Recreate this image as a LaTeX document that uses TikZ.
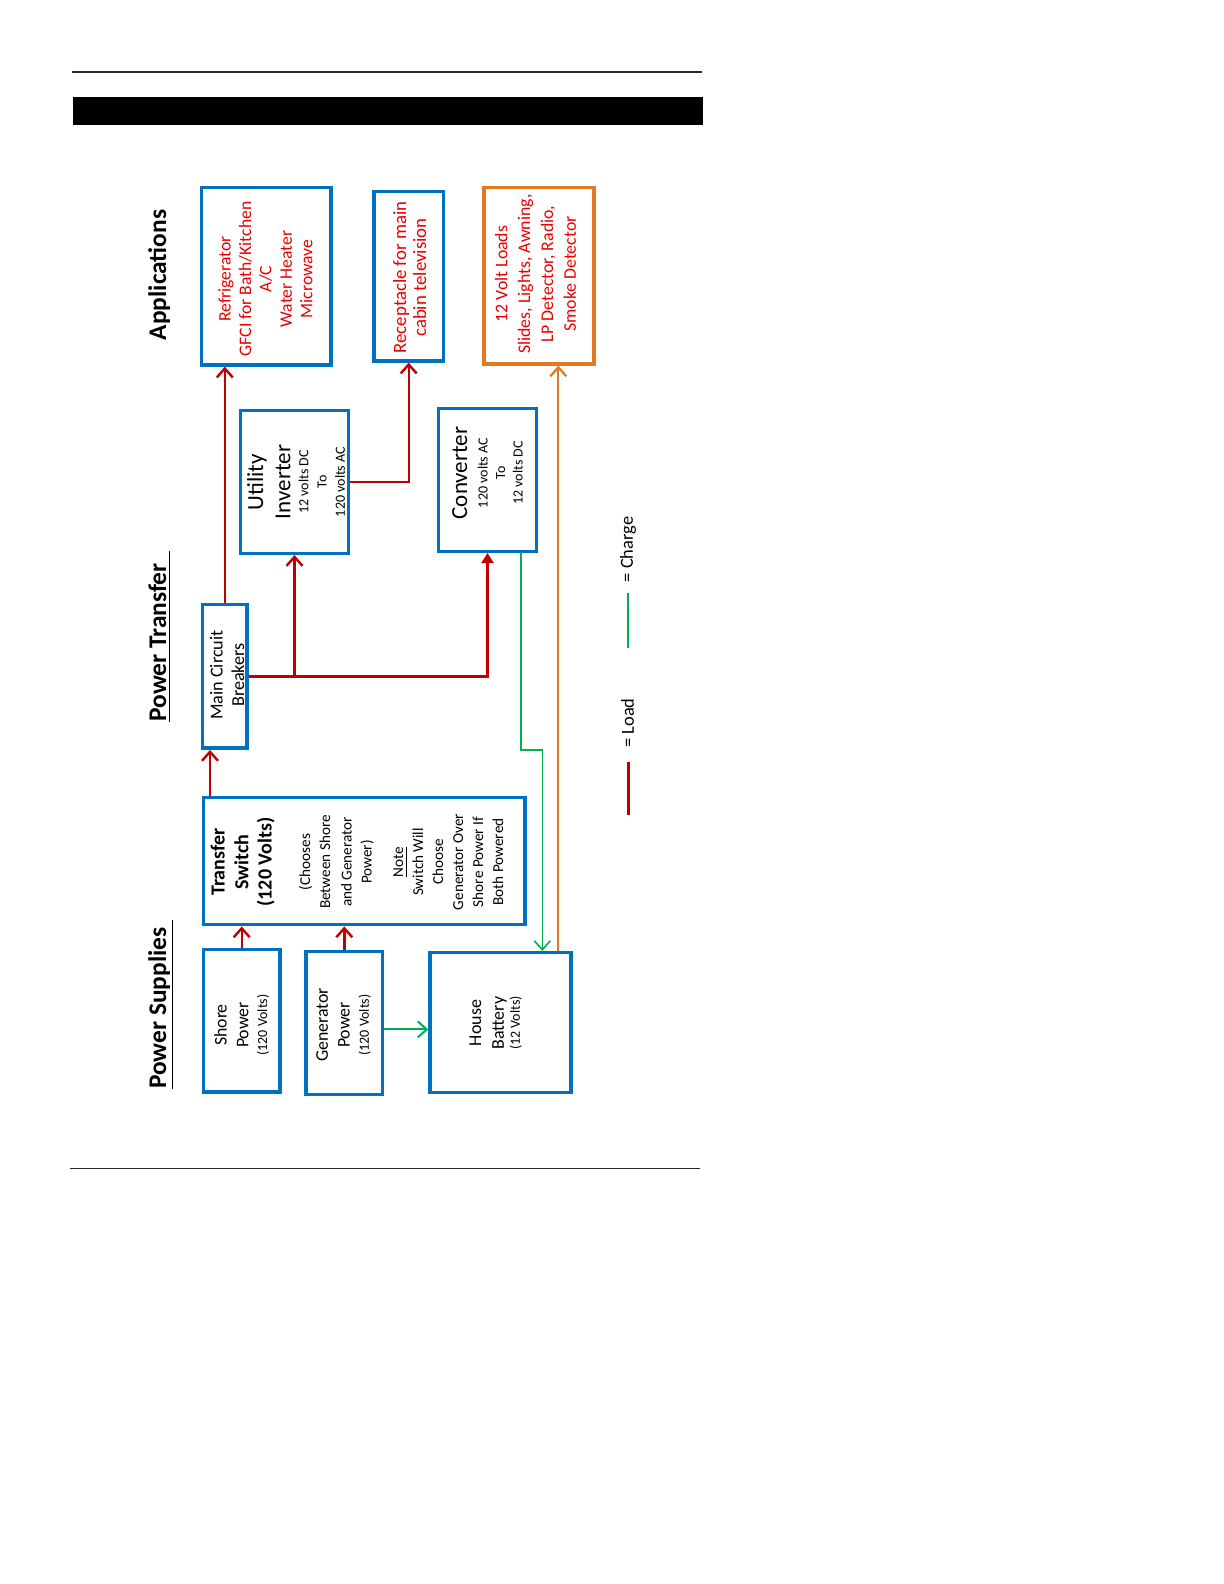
\documentclass[tikz,border=0pt]{standalone}
\usepackage{fontspec}
\setmainfont{Carlito}
\usetikzlibrary{arrows.meta}
\definecolor{boxblue}{RGB}{0,112,192}
\definecolor{loadred}{RGB}{192,0,0}
\definecolor{textred}{RGB}{232,0,0}
\definecolor{chargegreen}{RGB}{0,176,80}
\definecolor{supplyorange}{RGB}{228,120,34}
\newcommand{\fsz}[2]{\fontsize{#1}{#2}\selectfont}
\begin{document}
\begin{tikzpicture}[x=0.5pt, y=-0.5pt,
    box/.style={draw=boxblue, line width=1.75pt, inner sep=0pt},
    lbl/.style={rotate=90, align=center, inner sep=0pt},
    head/.style={rotate=90, anchor=base, inner sep=0pt, font=\bfseries\fsz{12.7}{14}},
    load/.style={draw=loadred, line width=1.2pt, -{Straight Barb[length=4.5pt,width=8pt]}},
    charge/.style={draw=chargegreen, line width=1pt, -{Straight Barb[length=4.5pt,width=8pt]}},
    supply/.style={draw=supplyorange, line width=1.1pt, -{Straight Barb[length=4.5pt,width=8pt]}}]
    \useasboundingbox (0,0) rectangle (1224,1584);

    % Intestazione e piede della pagina
    \draw[line width=1pt, black!85] (72,71.7) -- (701.7,71.7);
    \fill (72.7,96.7) rectangle (702.7,125);
    \draw[line width=0.7pt, black!85] (70,1168.3) -- (700,1168.3);

    % Titoli delle colonne
    \node[head] (hd-app) at (166,275) {Applications};
    \node[head] (hd-trans) at (166,636.4) {\underline{Power Transfer\hspace{6pt}}};
    \node[head] (hd-sup) at (166,1004.2) {\underline{Power Supplies\hspace{4pt}}};

    % Riquadri
    \node[box, minimum width=64.6pt, minimum height=88.6pt] (fridge) at (266.3,276.3) {};
    \node[box, minimum width=34.6pt, minimum height=84.6pt] (recep) at (408.7,276.3) {};
    \node[box, draw=supplyorange, minimum width=55pt, minimum height=88.1pt] (loads) at (539,275.8) {};
    \node[box, minimum width=53.8pt, minimum height=71.3pt] (inv) at (294.5,482) {};
    \node[box, minimum width=48.8pt, minimum height=71.3pt] (conv) at (487.5,480) {};
    \node[box, minimum width=22.1pt, minimum height=71.9pt] (brk) at (224.8,676.3) {};
    \node[box, minimum width=160.8pt, minimum height=63.5pt] (xs) at (364.2,861.2) {};
    \node[box, minimum width=38.3pt, minimum height=71.4pt] (shore) at (241.7,1020.8) {};
    \node[box, minimum width=38.3pt, minimum height=71.3pt] (gen) at (344.3,1023) {};
    \node[box, minimum width=70.5pt, minimum height=69.8pt] (bat) at (500.5,1022.5) {};

    % Testi dei riquadri
    \node[lbl, text=textred, font=\fsz{8.8}{10.2}] (fridge-t) at (265.5,279)
        {Refrigerator\\GFCI for Bath/Kitchen\\A/C\\Water Heater\\Microwave};
    \node[lbl, text=textred, font=\fsz{9.4}{10}] (recep-t) at (409.6,277.5)
        {Receptacle for main\\cabin television};
    \node[lbl, text=textred, font=\fsz{8.9}{11.4}] (loads-t) at (535.5,274)
        {12 Volt Loads\\Slides, Lights, Awning,\\LP Detector, Radio,\\Smoke Detector};
    \node[lbl, font=\fsz{7}{9.1}] (inv-t) at (296,482)
        {{\fsz{11.5}{12}Utility}\\[3.4pt]{\fsz{11.5}{12}Inverter}\\12 volts DC\\To\\120 volts AC};
    \node[lbl, font=\fsz{7}{8.8}] (conv-t) at (487.5,473)
        {{\fsz{11.5}{12}Converter}\\[1.4pt]120 volts AC\\To\\12 volts DC};
    \node[lbl, font=\fsz{9.1}{10.8}] (brk-t) at (227.2,675) {Main Circuit\\Breakers};
    \node[lbl, font=\fsz{7.6}{10}] (xs-t) at (357,862)
        {{\bfseries\fsz{10}{10}Transfer}\\[1.8pt]{\bfseries\fsz{10}{10}Switch}\\[1.7pt]%
         {\bfseries\fsz{10}{10}(120 Volts)}\\[9.2pt](Chooses\\Between Shore\\[0.8pt]and Generator\\Power)\\[5.7pt]%
         \underline{Note}\\Switch Will\\Choose\\Generator Over\\Shore Power If\\Both Powered};
    \node[lbl, font=\fsz{8.9}{10.85}] (shore-t) at (241.7,1025)
        {Shore\\Power\\[-1.45pt]{\fsz{7}{8}(120 Volts)}};
    \node[lbl, font=\fsz{8.9}{10.8}] (gen-t) at (343.6,1025)
        {Generator\\Power\\[-1.1pt]{\fsz{7}{8}(120 Volts)}};
    \node[lbl, font=\fsz{9}{11.35}] (bat-t) at (495.7,1023)
        {House\\Battery\\[-3.35pt]{\fsz{7}{8}(12 Volts)}};

    % Collegamenti di carico
    \draw[load] (brk.north) -- (brk.north |- fridge.south);
    \draw[load] (brk.east) -| (inv.south);
    \draw[draw=loadred, line width=1.2pt, -{Triangle[length=5pt,width=6pt]}] (brk.east) -| (conv.south);
    \draw[load] (inv.east) -| (recep.south);
    \coordinate (brk-in) at ([xshift=-7.4pt]brk.south);
    \draw[load] (brk-in |- xs.north) -- (brk-in);
    \draw[load] (shore.north) -- (shore.north |- xs.south);
    \draw[load] (gen.north) -- (gen.north |- xs.south);

    % Collegamenti di ricarica
    \coordinate (gen-out) at ([yshift=-3.2pt]gen.east);
    \draw[charge] (gen-out) -- (gen-out -| bat.west);
    \coordinate (conv-out) at ([xshift=16.6pt]conv.south);
    \coordinate (cbend) at (542.3,750);
    \draw[charge, line width=0.8pt] (conv-out) |- (cbend) -- (cbend |- bat.north);

    % Batteria verso i carichi a 12 volt
    \coordinate (bat-out) at ([xshift=28.9pt]bat.north);
    \draw[supply] (bat-out) -- (bat-out |- loads.south);

    % Legenda
    \node[lbl, font=\fsz{9.2}{11}] (lgd-load) at (627.5,723) {= Load};
    \node[lbl, font=\fsz{9.2}{11}] (lgd-charge) at (628,549.5) {= Charge};
    \draw[draw=loadred, line width=1.2pt] (628.3,761.7) -- (628.3,815);
    \draw[draw=chargegreen, line width=0.9pt] (628.3,593.3) -- (628.3,648.3);
\end{tikzpicture}
\end{document}
